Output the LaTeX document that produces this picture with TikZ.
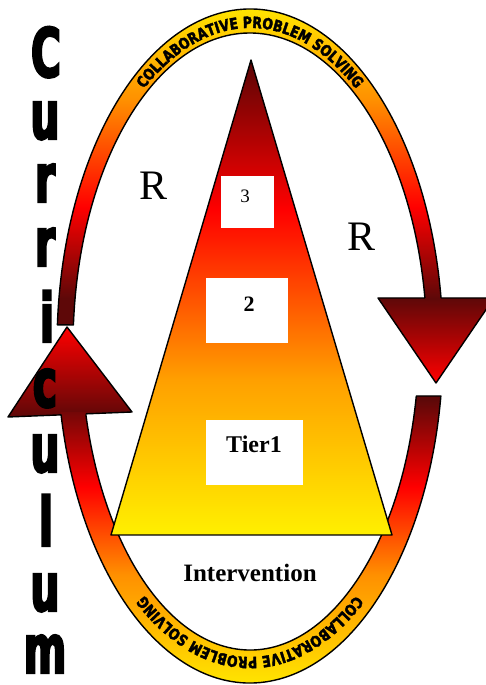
\documentclass[tikz,border=0pt]{standalone}
\usepackage{fontspec}
\setmainfont{Liberation Serif}
\newfontfamily\arcfamily[FakeStretch=0.8,FakeBold=2.5]{DejaVu Sans Bold}
\newfontfamily\currfamily[FakeStretch=0.6,FakeBold=3]{DejaVu Sans Bold}
\newcommand\arcfnt{\arcfamily\fontsize{15.5}{15.5}\selectfont}
\usetikzlibrary{decorations.text,calc}
\definecolor{byellow}{HTML}{FFE400}
\definecolor{borange}{HTML}{FF9000}
\definecolor{bred}{HTML}{FF0000}
\definecolor{bdark}{HTML}{5E0808}
\definecolor{tyellow}{HTML}{FFF000}
\definecolor{torange}{HTML}{FFA000}
\definecolor{tred}{HTML}{FF0000}
\definecolor{tdark}{HTML}{5A0505}
\pgfdeclareverticalshading{topband}{100bp}{color(0bp)=(bdark); color(29.9bp)=(bdark); color(43.9bp)=(bred); color(60.4bp)=(borange); color(74.4bp)=(byellow); color(100bp)=(byellow)}
\pgfdeclareverticalshading{botband}{100bp}{color(0bp)=(byellow); color(25.4bp)=(byellow); color(43.4bp)=(borange); color(58bp)=(bred); color(72.5bp)=(bdark); color(100bp)=(bdark)}
\pgfdeclareverticalshading{trishade}{100bp}{color(0bp)=(tyellow); color(25bp)=(tyellow); color(41.3bp)=(torange); color(59.2bp)=(tred); color(75bp)=(tdark); color(100bp)=(tdark)}
\begin{document}
\begin{tikzpicture}[x=1pt,y=1pt,
  outline/.style={draw=black,line width=1.4pt,line join=round},
  whitebox/.style={fill=white,draw=none,inner sep=0pt},
  boxtext/.style={inner sep=0pt,text=black},
  rlabel/.style={inner sep=0pt,font=\fontsize{42}{42}\selectfont},
  currletter/.style={inner sep=0pt,anchor=base,font=\currfamily\fontsize{68}{68}\selectfont}]
\useasboundingbox (0,0) rectangle (486,685);
\fill[white] (0,0) rectangle (486,685);

% ellipse centres
\coordinate (oc) at (250,339);
\coordinate (tc) at (250,339);
\coordinate (bc) at (250,344);
\coordinate (txc) at (250,341);

% right arrowhead (end of upper arc)
\coordinate (ra1) at (378,387);
\coordinate (ra2) at (494,387);
\coordinate (ratip) at (436,302);
\shadedraw[outline,top color=bdark,bottom color=bred] (ra1) -- (ra2) -- (ratip) -- cycle;

% upper arc
\begin{scope}
  \clip ($(oc)+(176.4:193 and 337)$) arc[start angle=176.4,end angle=7.85,x radius=193,y radius=337]
     -- ($(tc)+(8.45:177 and 313)$) arc[start angle=8.45,end angle=176.15,x radius=177,y radius=313] -- cycle;
  \shade[shading=topband] (40,355) rectangle (460,680);
\end{scope}
\draw[outline] ($(oc)+(8.19:193 and 337)$) arc[start angle=8.19,end angle=176.4,x radius=193,y radius=337]
     -- ($(tc)+(176.15:177 and 313)$) arc[start angle=176.15,end angle=8.82,x radius=177,y radius=313];

% left arrowhead (end of lower arc)
\coordinate (la1) at (8,268);
\coordinate (la2) at (132,273);
\coordinate (latip) at (67,358);
\shadedraw[outline,top color=bred,bottom color=bdark] (la1) -- (latip) -- (la2) -- cycle;

% lower arc
\begin{scope}
  \clip ($(oc)+(-8.53:193 and 337)$) arc[start angle=-8.53,end angle=-168.71,x radius=193,y radius=337]
     -- ($(bc)+(-166.72:169 and 309)$) arc[start angle=-166.72,end angle=-10.25,x radius=169,y radius=309] -- cycle;
  \shade[shading=botband] (40,0) rectangle (460,300);
\end{scope}
\draw[outline] ($(oc)+(-168.27:193 and 337)$) arc[start angle=-168.27,end angle=-8.53,x radius=193,y radius=337]
     -- ($(bc)+(-10.25:169 and 309)$) arc[start angle=-10.25,end angle=-166.24,x radius=169,y radius=309];

% texts along the arcs
\path[decorate,decoration={text along path,text align=center,
      text={|\arcfnt|COLLABORATIVE PROBLEM SOLVING}}]
  ($(oc)+(150:180 and 318)$) arc[start angle=150,end angle=30,x radius=180,y radius=318];
\path[decorate,decoration={text along path,text align=center,
      text={|\arcfnt|COLLABORATIVE PROBLEM SOLVING}}]
  ($(txc)+(-35:177 and 313)$) arc[start angle=-35,end angle=-145,x radius=177,y radius=313];

% triangle
\coordinate (apex) at (251,625);
\coordinate (tl) at (111,150);
\coordinate (tr) at (392,150);
\begin{scope}
  \clip (apex) -- (tl) -- (tr) -- cycle;
  \shade[shading=trishade] (100,150) rectangle (400,625);
\end{scope}
\draw[outline] (apex) -- (tl) -- (tr) -- cycle;

% white boxes and tier labels
\node[whitebox,minimum width=53pt,minimum height=52pt] (box3) at (247.5,483) {};
\node[boxtext,font=\fontsize{19}{19}\selectfont] (t3) at (245,488.5) {3};
\node[whitebox,minimum width=82pt,minimum height=65pt] (box2) at (247,374.5) {};
\node[boxtext,font=\bfseries\fontsize{22}{22}\selectfont] (t2) at (249,380.5) {2};
\node[whitebox,minimum width=97pt,minimum height=65pt] (box1) at (254.5,232.5) {};
\node[boxtext,font=\bfseries\fontsize{24}{24}\selectfont] (t1) at (254,241) {Tier1};
\node[boxtext,font=\bfseries\fontsize{25}{25}\selectfont] (interv) at (250,112) {Intervention};

% R labels
\node[rlabel] (rleft) at (153.5,499) {R};
\node[rlabel] (rright) at (362,448.5) {R};

% Curriculum
\node[currletter] (cu1) at (46,608) {C};
\node[currletter] (cu2) at (45,546) {u};
\node[currletter] (cu3) at (45,483) {r};
\node[currletter] (cu4) at (45,419) {r};
\node[currletter] (cu5) at (47,343) {i};
\node[currletter] (cu6) at (45,278) {c};
\node[currletter] (cu7) at (45,213) {u};
\node[currletter] (cu8) at (46,139) {l};
\node[currletter] (cu9) at (45,74) {u};
\node[currletter] (cu10) at (45,12) {m};
\end{tikzpicture}
\end{document}
